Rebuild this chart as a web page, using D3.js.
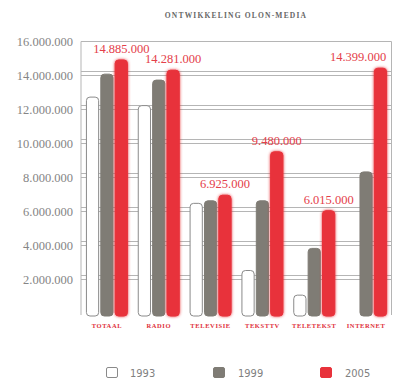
<!DOCTYPE html>
<html>
<head>
<meta charset="utf-8">
<script src="https://cdn.jsdelivr.net/npm/d3@7"></script>
<style>
  html, body { margin: 0; padding: 0; background: #fff; }
  svg { display: block; }
</style>
</head>
<body>
<svg id="chart" width="395" height="378"></svg>
<script>
// Olon media reach per medium, for three survey years
const categories = ["TOTAAL", "RADIO", "TELEVISIE", "TEKSTTV", "TELETEKST", "INTERNET"];
const years = ["1993", "1999", "2005"];
const values1993 = [12700000, 12200000, 6450000, 2500000, 1050000, 0];
const values1999 = [14050000, 13700000, 6600000, 6600000, 3800000, 8300000];
const values2005 = [14885000, 14281000, 6925000, 9480000, 6015000, 14399000];
const yTicks = [2000000, 4000000, 6000000, 8000000, 10000000, 12000000, 14000000, 16000000];

const series = [values1993, values1999, values2005];
const fills = ["#ffffff", "#7f7c75", "#e8323b"];
const strokes = ["#8a8a8a", "#7f7c75", "#e8323b"];

const svg = d3.select("#chart");
const plotLeft = 81, plotRight = 392, plotTop = 41, plotBottom = 313;

const x = d3.scaleBand().domain(categories).range([plotLeft, plotRight])
  .paddingInner(0.19).paddingOuter(0.095);
const xs = d3.scaleBand().domain(years).range([0, x.bandwidth()]).paddingInner(0.08);
const y = d3.scaleLinear().domain([0, 16000000]).range([plotBottom, plotTop]);

const fmt = v => d3.format(",")(v).replace(/,/g, ".");

// soft halo behind the red bars
const defs = svg.append("defs");
const glow = defs.append("filter").attr("id", "glow")
  .attr("x", "-50%").attr("y", "-10%").attr("width", "200%").attr("height", "120%");
glow.append("feGaussianBlur").attr("in", "SourceGraphic").attr("stdDeviation", 1.6).attr("result", "b");
const merge = glow.append("feMerge");
merge.append("feMergeNode").attr("in", "b");
merge.append("feMergeNode").attr("in", "SourceGraphic");

// title
svg.append("text")
  .attr("x", 236).attr("y", 18)
  .attr("text-anchor", "middle")
  .attr("font-family", "'Liberation Serif', serif")
  .attr("font-size", 7.5).attr("font-weight", "bold")
  .attr("letter-spacing", 1.2)
  .attr("fill", "#666")
  .text("ONTWIKKELING OLON-MEDIA");

// frame and doubled gridlines
const grid = svg.append("g").attr("stroke", "#b5b5b5").attr("fill", "none").attr("stroke-width", 1);
grid.append("path").attr("d", `M${plotLeft},${plotBottom + 2}V${plotTop + 0.5}H${plotRight - 0.5}V${plotBottom + 2}`);
yTicks.filter(t => t < 16000000).forEach(t => {
  const yy = Math.round(y(t)) + 0.5;
  grid.append("line").attr("x1", plotLeft).attr("x2", plotRight).attr("y1", yy).attr("y2", yy);
  grid.append("line").attr("x1", plotLeft).attr("x2", plotRight).attr("y1", yy - 4).attr("y2", yy - 4);
});

// y axis labels
const yAxis = d3.axisLeft(y).tickValues(yTicks).tickSize(0).tickPadding(0).tickFormat(fmt);
const ya = svg.append("g").attr("transform", `translate(73,0)`).call(yAxis);
ya.select(".domain").remove();
ya.selectAll("text")
  .attr("font-family", "'Liberation Serif', serif")
  .attr("font-size", 12.5)
  .attr("fill", "#858585");

// bars
const groups = svg.append("g").selectAll("g").data(categories).join("g")
  .attr("transform", d => `translate(${x(d)},0)`);

series.forEach((vals, si) => {
  groups.each(function (c, ci) {
    const v = vals[ci];
    if (!v) return;
    const bx = xs(years[si]);
    const bw = xs.bandwidth();
    const by = y(v);
    const h = y(0) - by + 3;
    d3.select(this).append("rect")
      .attr("x", bx + 0.5).attr("y", by)
      .attr("width", bw - 1).attr("height", h)
      .attr("rx", 3.5).attr("ry", 3.5)
      .attr("fill", fills[si])
      .attr("stroke", strokes[si])
      .attr("stroke-width", 1)
      .attr("filter", si === 2 ? "url(#glow)" : null);
  });
});

// value labels on the 2005 bars
svg.append("g").selectAll("text").data(categories).join("text")
  .attr("x", (d, i) => {
    const cx = x(d) + xs("2005") + xs.bandwidth() / 2;
    return Math.min(cx, plotRight - 34);
  })
  .attr("y", (d, i) => y(values2005[i]) - 7)
  .attr("text-anchor", "middle")
  .attr("font-family", "'Liberation Serif', serif")
  .attr("font-size", 12.5)
  .attr("fill", "#e4404a")
  .text((d, i) => fmt(values2005[i]));

// category labels
const xAxis = d3.axisBottom(x).tickSize(0).tickPadding(0);
const xa = svg.append("g").attr("transform", `translate(0,${plotBottom + 10})`).call(xAxis);
xa.select(".domain").remove();
xa.selectAll("text")
  .attr("font-family", "'Liberation Serif', serif")
  .attr("font-size", 6.5).attr("font-weight", "bold")
  .attr("letter-spacing", 0.6)
  .attr("fill", "#e0303a");

// legend
const legendX = [106, 213, 320];
const lg = svg.append("g").selectAll("g").data(years).join("g")
  .attr("transform", (d, i) => `translate(${legendX[i]},367)`);
lg.append("rect")
  .attr("x", 0.5).attr("y", 0.5).attr("width", 11).attr("height", 10).attr("rx", 1.5)
  .attr("fill", (d, i) => fills[i])
  .attr("stroke", (d, i) => strokes[i]);
lg.append("text")
  .attr("x", (d, i) => i === 0 ? 24 : 25).attr("y", 9.5)
  .attr("font-family", "'DejaVu Sans Condensed', sans-serif")
  .attr("font-size", 11)
  .attr("fill", "#808080")
  .text(d => d);
</script>
</body>
</html>
